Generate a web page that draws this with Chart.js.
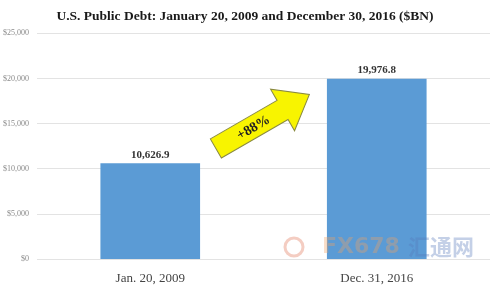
<!DOCTYPE html>
<html>
<head>
<meta charset="utf-8">
<script src="https://cdn.jsdelivr.net/npm/chart.js@4"></script>
<style>
  html, body { margin: 0; padding: 0; background: #ffffff; }
  #wrap { width: 496px; height: 289px; }
</style>
</head>
<body>
<div id="wrap"><canvas id="debtChart"></canvas></div>
<script>
const categories = ["Jan. 20, 2009", "Dec. 31, 2016"];
const debtValues = [10626.9, 19976.8];
const valueLabels = ["10,626.9", "19,976.8"];
const tickValues = [0, 5000, 10000, 15000, 20000, 25000];
const changeLabel = "+88%";

const serif = "'Liberation Serif', 'DejaVu Serif', serif";

// labels above the bars, the yellow arrow and the faint watermark
const extras = {
  id: 'extras',
  afterDatasetsDraw(chart) {
    const ctx = chart.ctx;
    const meta = chart.getDatasetMeta(0);
    ctx.save();
    ctx.fillStyle = '#333333';
    ctx.font = "bold 11px " + serif;
    ctx.textAlign = 'center';
    ctx.textBaseline = 'bottom';
    meta.data.forEach((bar, i) => {
      ctx.fillText(valueLabels[i], bar.x, bar.y - 3);
    });
    ctx.restore();

    // arrow between the bars
    const xs = chart.scales.x, ys = chart.scales.y;
    const cx = xs.getPixelForValue(0.5);
    const cy = ys.getPixelForValue(15300);
    ctx.save();
    ctx.translate(cx, cy);
    ctx.rotate(-30 * Math.PI / 180);
    ctx.beginPath();
    ctx.moveTo(-55, -11);
    ctx.lineTo(22, -11);
    ctx.lineTo(22, -24);
    ctx.lineTo(53, 0);
    ctx.lineTo(22, 24);
    ctx.lineTo(22, 11);
    ctx.lineTo(-55, 11);
    ctx.closePath();
    ctx.fillStyle = '#f8f400';
    ctx.fill();
    ctx.strokeStyle = '#8a8a40';
    ctx.lineWidth = 1;
    ctx.stroke();
    ctx.fillStyle = '#222222';
    ctx.font = "bold 14px " + serif;
    ctx.textAlign = 'center';
    ctx.textBaseline = 'middle';
    ctx.fillText(changeLabel, -12, 1);
    ctx.restore();

    // watermark
    ctx.save();
    ctx.globalAlpha = 0.35;
    ctx.font = "bold 22px 'DejaVu Sans', sans-serif";
    ctx.textBaseline = 'middle';
    ctx.fillStyle = '#f0a060';
    ctx.fillText("FX678", 322, 247);
    ctx.fillStyle = '#5577bb';
    ctx.font = "bold 22px 'Noto Sans CJK SC', sans-serif";
    ctx.fillText("汇通网", 408, 247);
    ctx.beginPath();
    ctx.arc(294, 247, 9, 0, Math.PI * 2);
    ctx.strokeStyle = '#e07050';
    ctx.lineWidth = 3;
    ctx.stroke();
    ctx.restore();
  }
};

new Chart(document.getElementById("debtChart"), {
  type: "bar",
  data: {
    labels: categories,
    datasets: [
      {
        data: debtValues,
        backgroundColor: "#5b9bd5",
        borderWidth: 0,
        barPercentage: 0.44,
        categoryPercentage: 1.0
      }
    ]
  },
  options: {
    responsive: true,
    maintainAspectRatio: false,
    animation: false,
    layout: { padding: { left: 0, right: 6, top: 8, bottom: 0 } },
    plugins: {
      legend: { display: false },
      tooltip: { enabled: false },
      title: {
        display: true,
        text: 'U.S. Public Debt: January 20, 2009 and December 30, 2016 ($BN)',
        color: '#1a1a1a',
        font: { family: serif, size: 13.5, weight: 'bold' },
        padding: { top: 0, bottom: 9 }
      }
    },
    scales: {
      x: {
        grid: { display: false },
        border: { display: false },
        ticks: {
          color: '#444444',
          font: { family: serif, size: 13 },
          padding: 3
        }
      },
      y: {
        min: 0,
        max: 25000,
        afterBuildTicks(axis) {
          axis.ticks = tickValues.map(v => ({ value: v }));
        },
        afterFit(axis) {
          axis.width = 37;
        },
        grid: { color: '#e3e3e3', lineWidth: 1, drawTicks: false },
        border: { display: false },
        ticks: {
          color: '#8a8a8a',
          font: { family: serif, size: 8 },
          padding: 8,
          callback: v => '$' + v.toLocaleString('en-US')
        }
      }
    }
  },
  plugins: [extras]
});
</script>
</body>
</html>
